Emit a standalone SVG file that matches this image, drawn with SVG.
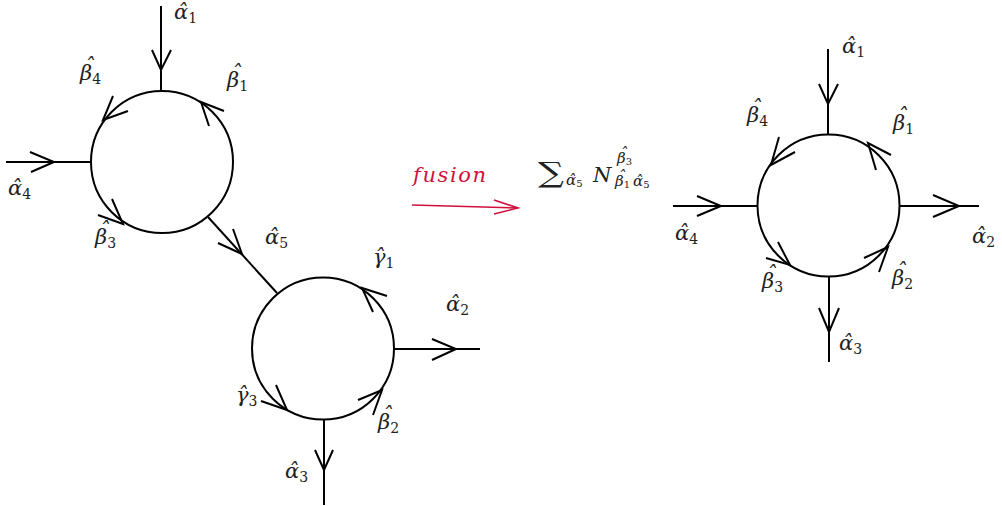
<svg xmlns="http://www.w3.org/2000/svg" width="1002" height="506" viewBox="0 0 1002 506">
<style>
.ln{fill:none;stroke:#000;stroke-width:2;stroke-linecap:butt;stroke-linejoin:miter}
.ah{fill:none;stroke:#000;stroke-width:2;stroke-linejoin:miter}
.ring{fill:#fff;stroke:#000;stroke-width:2}
.m{font-family:"DejaVu Serif","Liberation Serif",serif;font-style:italic;font-size:21px;fill:#222}
.f{font-size:15px}
.s{font-family:"DejaVu Serif","Liberation Serif",serif;font-style:normal;font-size:14px}
.ss{font-size:10px}
.red{fill:#d0103a}
.redln{fill:none;stroke:#d0103a;stroke-width:1.6}
</style>
<g id="connectors">
  <path class="ln" d="M161 6V91"/><polyline class="ah" points="152,50 161,70 171,50"/>
  <path class="ln" d="M6 162H91"/><polyline class="ah" points="30,152 54,162 31,172"/>
  <path class="ln" d="M208 217L277 293"/><polyline class="ah" points="233,229 242,254 218,243"/>
  <path class="ln" d="M394 349H480"/><polyline class="ah" points="432,339 456,349 432,360"/>
  <path class="ln" d="M324 420V505"/><polyline class="ah" points="315,450 324,470 333,450"/>
  <path class="ln" d="M828 49V134"/><polyline class="ah" points="819,84 828,104 838,84"/>
  <path class="ln" d="M673 206H758"/><polyline class="ah" points="697,196 721,206 697,216"/>
  <path class="ln" d="M899 206H979"/><polyline class="ah" points="933,195 959,206 933,217"/>
  <path class="ln" d="M829 277V362"/><polyline class="ah" points="819,308 829,332 839,308"/>
  <path class="redln" d="M412 205L518 208"/><polyline class="redln" points="494,200 518,208 494,214"/>
</g>
<g id="node-left">
  <circle class="ring" cx="162" cy="162" r="71"/>
  <polyline class="ah" points="113,96 103,120 128,111"/>
  <polyline class="ah" points="224,111 201,102 209,126"/>
  <polyline class="ah" points="112,199 123,224 98,215"/>
</g>
<g id="node-bottom">
  <circle class="ring" cx="323" cy="348.5" r="71"/>
  <polyline class="ah" points="387,296 362,288 373,312"/>
  <polyline class="ah" points="358,400 382,390 373,415"/>
  <polyline class="ah" points="276,385 287,410 261,401"/>
</g>
<g id="node-right">
  <circle class="ring" cx="828.5" cy="205.5" r="71"/>
  <polyline class="ah" points="779,137 771,165 795,152"/>
  <polyline class="ah" points="891,155 868,143 876,170"/>
  <polyline class="ah" points="778,242 790,265 766,258"/>
  <polyline class="ah" points="864,258 888,247 879,272"/>
</g>
<g id="labels">
  <text class="m" x="174" y="19">α̂<tspan class="s" dy="4">1</tspan></text>
  <text class="m"><tspan x="84" y="73">ˆ</tspan><tspan x="80" y="80">β</tspan><tspan class="s" dy="4">4</tspan></text>
  <text class="m"><tspan x="231" y="80">ˆ</tspan><tspan x="227" y="87">β</tspan><tspan class="s" dy="4">1</tspan></text>
  <text class="m" x="8" y="195">α̂<tspan class="s" dy="4">4</tspan></text>
  <text class="m"><tspan x="99" y="237">ˆ</tspan><tspan x="95" y="244">β</tspan><tspan class="s" dy="4">3</tspan></text>
  <text class="m" x="265" y="244">α̂<tspan class="s" dy="4">5</tspan></text>
  <text class="m" x="373" y="264">γ̂<tspan class="s" dy="4">1</tspan></text>
  <text class="m" x="446" y="311">α̂<tspan class="s" dy="4">2</tspan></text>
  <text class="m" x="236" y="402">γ̂<tspan class="s" dy="4">3</tspan></text>
  <text class="m"><tspan x="382" y="422">ˆ</tspan><tspan x="378" y="429">β</tspan><tspan class="s" dy="4">2</tspan></text>
  <text class="m" x="285" y="478">α̂<tspan class="s" dy="4">3</tspan></text>

  <text class="m" x="842" y="53">α̂<tspan class="s" dy="4">1</tspan></text>
  <text class="m"><tspan x="751" y="115">ˆ</tspan><tspan x="747" y="122">β</tspan><tspan class="s" dy="4">4</tspan></text>
  <text class="m"><tspan x="897" y="123">ˆ</tspan><tspan x="893" y="130">β</tspan><tspan class="s" dy="4">1</tspan></text>
  <text class="m" x="675" y="240">α̂<tspan class="s" dy="4">4</tspan></text>
  <text class="m" x="972" y="243">α̂<tspan class="s" dy="4">2</tspan></text>
  <text class="m"><tspan x="766" y="281">ˆ</tspan><tspan x="762" y="288">β</tspan><tspan class="s" dy="4">3</tspan></text>
  <text class="m"><tspan x="896" y="278">ˆ</tspan><tspan x="892" y="285">β</tspan><tspan class="s" dy="4">2</tspan></text>
  <text class="m" x="839" y="350">α̂<tspan class="s" dy="4">3</tspan></text>

  <text class="m red" x="413" y="182" style="font-size:21px" textLength="73" lengthAdjust="spacing">fusion</text>
  <text class="m" x="538" y="182" style="font-style:normal;font-size:28px" textLength="26" lengthAdjust="spacingAndGlyphs">∑</text>
  <text class="m f" x="566" y="185">α̂<tspan class="s ss" dy="2">5</tspan></text>
  <text class="m" x="593" y="182">N</text>
  <text class="m f"><tspan x="620" y="158">ˆ</tspan><tspan x="617" y="163">β</tspan><tspan class="s ss" dy="2">3</tspan></text>
  <text class="m f"><tspan x="618" y="181">ˆ</tspan><tspan x="615" y="186">β</tspan><tspan class="s ss" dy="2">1</tspan><tspan x="633" y="186">α̂</tspan><tspan class="s ss" dy="2">5</tspan></text>
</g>
</svg>
